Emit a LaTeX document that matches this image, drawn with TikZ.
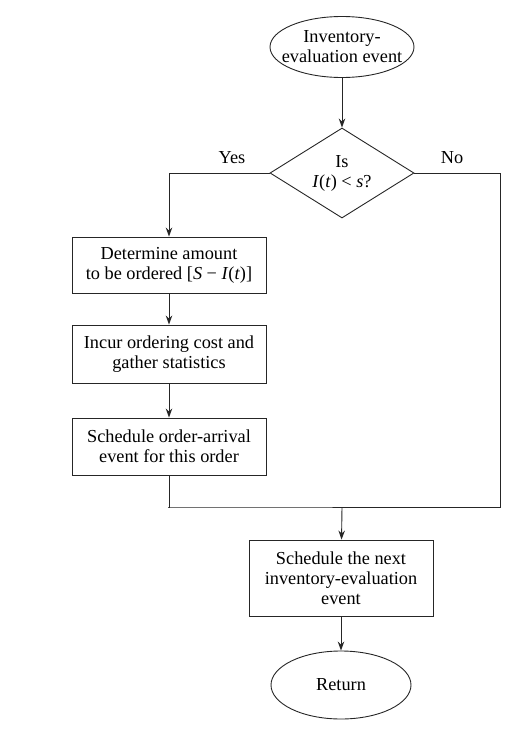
\documentclass[tikz,border=0pt]{standalone}
\usepackage{fontspec}
\setmainfont{Liberation Serif}
\usetikzlibrary{shapes.geometric,arrows.meta}
\begin{document}
\begin{tikzpicture}[x=1pt,y=-1pt,
  every node/.style={font=\fontsize{18.3}{20}\selectfont},
  line/.style={draw=black!85,line width=0.9pt},
  arr/.style={line,-{Stealth[length=9pt,width=6.5pt]}},
  oval/.style={ellipse,line,inner xsep=-14pt,inner ysep=0pt,align=center},
  proc/.style={rectangle,line,inner sep=0pt,align=center},
  decision/.style={diamond,line,inner xsep=-14pt,inner ysep=-6pt,align=center}]
\useasboundingbox (0,0) rectangle (529,731);
\node[oval,minimum width=144,minimum height=61] (start) at (342,47) {Inventory-\\evaluation event};
\node[decision,minimum width=144,minimum height=90] (dec) at (342,173) {Is\\\textit{I}(\textit{t}) < \textit{s}?};
\node[proc,minimum width=194,minimum height=56] (b1) at (169,265) {Determine amount\\to be ordered [\textit{S} − \textit{I}(\textit{t})]};
\node[proc,minimum width=194,minimum height=58] (b2) at (169,354) {Incur ordering cost and\\gather statistics};
\node[proc,minimum width=194,minimum height=57] (b3) at (169,446.5) {Schedule order-arrival\\event for this order};
\node[proc,minimum width=184,minimum height=76] (b4) at (341,578) {Schedule the next\\inventory-evaluation\\event};
\node[oval,minimum width=140,minimum height=68] (ret) at (341,685) {Return};
\node (yes) at (232,158) {Yes};
\node (no) at (452,158) {No};
\coordinate (jl) at (168,507);
\coordinate (jm) at (342,507);
\coordinate (jr) at (500,507);
\draw[arr] (start) -- (dec);
\draw[arr] (dec.west) -| (b1.north);
\draw[arr] (b1) -- (b2);
\draw[arr] (b2) -- (b3);
\draw[line] (b3.south) |- (jl) -- (jr) |- (dec.east);
\draw[arr] (jm) -- (b4);
\draw[arr] (b4) -- (ret);
\end{tikzpicture}
\end{document}
